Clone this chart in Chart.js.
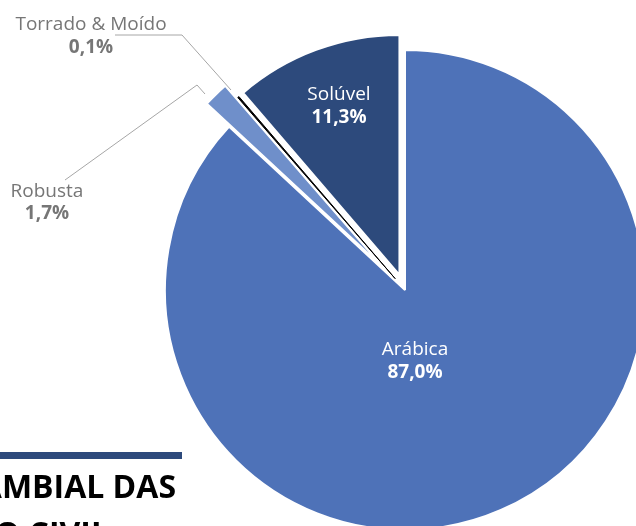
<!DOCTYPE html>
<html>
<head>
<meta charset="utf-8">
<script src="https://cdn.jsdelivr.net/npm/chart.js"></script>
<style>
  html, body { margin: 0; padding: 0; background: #fff; }
  body { width: 636px; height: 526px; position: relative; overflow: hidden; font-family: "Open Sans", sans-serif; }
  #grafico { position: absolute; left: 0; top: 0; }
  .barra { position: absolute; left: 0; top: 452px; width: 182px; height: 7px; background: #2d4a7c; }
  .titulo { position: absolute; white-space: nowrap; font-weight: 700; font-size: 32px; color: #000; line-height: 1; }
</style>
</head>
<body>
<canvas id="grafico" width="636" height="526"></canvas>
<div class="barra"></div>
<div class="titulo" style="right: 460px; top: 470px;">AMBIAL DAS</div>
<div class="titulo" style="right: 527px; top: 517px;">IO CIVIL</div>
<script>
// dados
const categorias = ['Arábica', 'Robusta', 'Torrado & Moído', 'Solúvel'];
const participacao = [87.0, 1.7, 0.1, 11.3];

// estilo
const cores = ['#4e72b8', '#6f8fca', '#000000', '#2d4a7c'];
const bordas = ['#ffffff', '#ffffff', '#000000', '#ffffff'];
const larguraBorda = [2, 2, 1, 2];
const explodir = [0, 32, 15, 16];
const corTexto = ['#ffffff', '#767676', '#767676', '#ffffff'];
// [x centro, linha base nome, linha base valor]
const posRotulo = [[415, 355, 378], [47, 197, 219], [91, 30, 53], [339, 100, 123]];
// linhas de chamada dos rótulos externos
const chamadas = [null, [[65, 180], [197, 85], [205, 94]], [[115, 35], [182, 35], [231, 90]], null];

function fmt(v) {
    return v.toFixed(1).replace('.', ',') + '%';
}

// desenha cada fatia deslocada do centro
const explodePlugin = {
    id: 'explode',
    beforeDatasetDraw(chart, args) {
        const ctx = chart.ctx;
        args.meta.data.forEach((arc, i) => {
            const meio = (arc.startAngle + arc.endAngle) / 2;
            ctx.save();
            ctx.translate(Math.cos(meio) * explodir[i], Math.sin(meio) * explodir[i]);
            arc.draw(ctx);
            ctx.restore();
        });
        return false;
    }
};

const rotulosPlugin = {
    id: 'rotulos',
    afterDatasetsDraw(chart) {
        const ctx = chart.ctx;
        ctx.save();
        chamadas.forEach(pts => {
            if (!pts) return;
            ctx.beginPath();
            ctx.moveTo(pts[0][0], pts[0][1]);
            for (let k = 1; k < pts.length; k++) ctx.lineTo(pts[k][0], pts[k][1]);
            ctx.strokeStyle = '#a6a6a6';
            ctx.lineWidth = 1;
            ctx.stroke();
        });
        ctx.textAlign = 'center';
        ctx.textBaseline = 'alphabetic';
        categorias.forEach((nome, i) => {
            const p = posRotulo[i];
            ctx.fillStyle = corTexto[i];
            ctx.font = '19px "Open Sans"';
            ctx.fillText(nome, p[0], p[1]);
            ctx.font = 'bold 19px "Open Sans"';
            ctx.fillText(fmt(participacao[i]), p[0], p[2]);
        });
        ctx.restore();
    }
};

new Chart(document.getElementById('grafico'), {
    type: 'pie',
    data: {
        labels: categorias,
        datasets: [{
            data: participacao,
            backgroundColor: cores,
            borderColor: bordas,
            borderWidth: larguraBorda,
            clip: false
        }]
    },
    options: {
        responsive: false,
        animation: false,
        events: [],
        radius: 240,
        rotation: 0,
        layout: { padding: { left: 174, right: 0, top: 54, bottom: 0 } },
        plugins: {
            legend: { display: false },
            tooltip: { enabled: false }
        }
    },
    plugins: [explodePlugin, rotulosPlugin]
});
</script>
</body>
</html>
